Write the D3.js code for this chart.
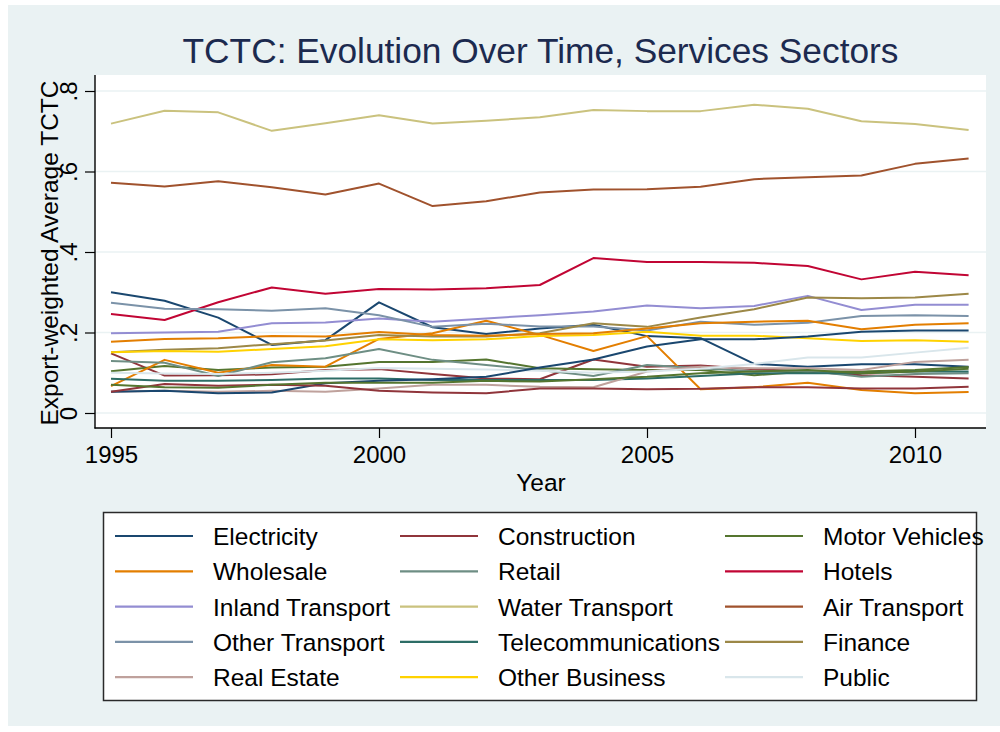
<!DOCTYPE html>
<html>
<head>
<meta charset="utf-8">
<script src="https://cdn.jsdelivr.net/npm/d3@7"></script>
<style>
  html, body { margin: 0; padding: 0; background: #ffffff; }
  svg { display: block; font-family: "Liberation Sans", Arial, Helvetica, sans-serif; }
</style>
</head>
<body>
<svg id="chart" width="1000" height="732"></svg>
<script>
// Years on the x axis
const years = [1995, 1996, 1997, 1998, 1999, 2000, 2001, 2002, 2003, 2004, 2005, 2006, 2007, 2008, 2009, 2010, 2011];

// Export-weighted average TCTC by sector, 1995-2011
const electricity       = [0.300, 0.279, 0.237, 0.169, 0.181, 0.275, 0.213, 0.196, 0.210, 0.219, 0.191, 0.186, 0.122, 0.115, 0.121, 0.121, 0.115];
const construction      = [0.148, 0.093, 0.094, 0.096, 0.107, 0.109, 0.097, 0.086, 0.084, 0.133, 0.115, 0.118, 0.109, 0.103, 0.094, 0.090, 0.086];
const motorVehicles     = [0.104, 0.117, 0.107, 0.113, 0.115, 0.127, 0.127, 0.133, 0.111, 0.109, 0.107, 0.107, 0.094, 0.103, 0.103, 0.107, 0.114];
const wholesale         = [0.067, 0.132, 0.100, 0.119, 0.115, 0.184, 0.198, 0.229, 0.194, 0.154, 0.191, 0.059, 0.064, 0.075, 0.057, 0.049, 0.052];
const retail            = [0.129, 0.125, 0.092, 0.126, 0.136, 0.159, 0.132, 0.119, 0.107, 0.092, 0.119, 0.111, 0.104, 0.105, 0.090, 0.097, 0.099];
const hotels            = [0.246, 0.231, 0.275, 0.312, 0.296, 0.308, 0.307, 0.310, 0.318, 0.385, 0.375, 0.375, 0.373, 0.365, 0.332, 0.351, 0.342];
const inlandTransport   = [0.198, 0.200, 0.202, 0.223, 0.225, 0.235, 0.227, 0.235, 0.243, 0.252, 0.267, 0.260, 0.266, 0.291, 0.256, 0.269, 0.269];
const waterTransport    = [0.719, 0.751, 0.747, 0.701, 0.720, 0.740, 0.719, 0.726, 0.735, 0.753, 0.750, 0.750, 0.766, 0.756, 0.725, 0.718, 0.703];
const airTransport      = [0.572, 0.563, 0.576, 0.561, 0.543, 0.570, 0.514, 0.526, 0.548, 0.555, 0.556, 0.562, 0.581, 0.586, 0.590, 0.619, 0.632];
const otherTransport    = [0.274, 0.259, 0.258, 0.254, 0.260, 0.243, 0.214, 0.222, 0.215, 0.215, 0.205, 0.227, 0.219, 0.224, 0.241, 0.243, 0.241];
const telecommunications= [0.085, 0.080, 0.080, 0.082, 0.086, 0.086, 0.082, 0.082, 0.082, 0.082, 0.086, 0.092, 0.099, 0.099, 0.099, 0.103, 0.103];
const finance           = [0.151, 0.157, 0.161, 0.171, 0.180, 0.194, 0.190, 0.190, 0.198, 0.223, 0.214, 0.237, 0.258, 0.287, 0.285, 0.287, 0.296];
const realEstate        = [0.053, 0.055, 0.053, 0.055, 0.053, 0.061, 0.070, 0.070, 0.065, 0.064, 0.103, 0.115, 0.111, 0.111, 0.107, 0.127, 0.132];
const otherBusiness     = [0.151, 0.154, 0.152, 0.159, 0.166, 0.183, 0.181, 0.183, 0.191, 0.194, 0.202, 0.192, 0.192, 0.186, 0.179, 0.181, 0.177];
const publicSector      = [0.100, 0.098, 0.097, 0.100, 0.105, 0.112, 0.110, 0.108, 0.105, 0.100, 0.103, 0.110, 0.122, 0.138, 0.138, 0.150, 0.162];
// Further plotted series without a legend key (plot styles wrap around to the first colours)
const series16          = [0.053, 0.055, 0.049, 0.051, 0.074, 0.080, 0.084, 0.090, 0.113, 0.133, 0.165, 0.183, 0.183, 0.190, 0.202, 0.205, 0.205];
const series17          = [0.053, 0.072, 0.068, 0.070, 0.068, 0.055, 0.051, 0.049, 0.061, 0.061, 0.059, 0.060, 0.064, 0.064, 0.061, 0.061, 0.065];
const series18          = [0.070, 0.064, 0.063, 0.070, 0.075, 0.075, 0.075, 0.080, 0.078, 0.084, 0.090, 0.099, 0.103, 0.107, 0.099, 0.103, 0.110];
const series19          = [0.177, 0.184, 0.186, 0.191, 0.190, 0.201, 0.194, 0.192, 0.196, 0.198, 0.210, 0.223, 0.227, 0.229, 0.208, 0.219, 0.223];

// Legend labels, in plotting order
const legendLabels = ["Electricity", "Construction", "Motor Vehicles", "Wholesale", "Retail", "Hotels",
  "Inland Transport", "Water Transport", "Air Transport", "Other Transport", "Telecommunications",
  "Finance", "Real Estate", "Other Business", "Public"];

// Axis ticks
const yTicks = [0, 0.2, 0.4, 0.6, 0.8];
const xTicks = [1995, 2000, 2005, 2010];

// Stata s2color palette (p1..p15)
const palette = ["#1a476f", "#90353b", "#55752f", "#e37e00", "#6e8e84", "#c10534", "#938dd2",
  "#cac27e", "#a0522d", "#7b92a8", "#2d6d66", "#9c8847", "#bfa19c", "#ffd200", "#d9e6eb"];

const allValues = [electricity, construction, motorVehicles, wholesale, retail, hotels, inlandTransport,
  waterTransport, airTransport, otherTransport, telecommunications, finance, realEstate, otherBusiness,
  publicSector, series16, series17, series18, series19];

const seriesList = allValues.map((vals, i) => ({
  label: i < legendLabels.length ? legendLabels[i] : null,
  color: palette[i % palette.length],
  values: vals
}));

const svg = d3.select("#chart");
const bgColor = "#eaf2f3";

// Graph region background
svg.append("rect").attr("x", 8).attr("y", 5).attr("width", 992).attr("height", 721).attr("fill", bgColor);

// Plot region
const plot = { left: 95, right: 986, top: 75, bottom: 428 };
svg.append("rect")
  .attr("x", plot.left).attr("y", plot.top)
  .attr("width", plot.right - plot.left).attr("height", plot.bottom - plot.top)
  .attr("fill", "#ffffff");

const x = d3.scaleLinear().domain([1995, 2010]).range([111, 915]);
const y = d3.scaleLinear().domain([0, 0.8]).range([413, 91]);

// Horizontal grid lines
svg.append("g").selectAll("line").data(yTicks).join("line")
  .attr("x1", plot.left).attr("x2", plot.right)
  .attr("y1", d => y(d)).attr("y2", d => y(d))
  .attr("stroke", bgColor).attr("stroke-width", 1.6);

// Series lines
const line = d3.line().x((d, i) => x(years[i])).y(d => y(d));
svg.append("g").selectAll("path").data(seriesList).join("path")
  .attr("d", s => line(s.values))
  .attr("fill", "none")
  .attr("stroke", s => s.color)
  .attr("stroke-width", 2)
  .attr("stroke-linejoin", "round");

// Y axis
const yFmt = d => d === 0 ? "0" : d3.format(".1f")(d).replace(/^0/, "");
const yAxis = svg.append("g").attr("transform", `translate(${plot.left},0)`)
  .call(d3.axisLeft(y).tickValues(yTicks).tickFormat(yFmt).tickSize(10).tickSizeOuter(0));
yAxis.select(".domain").remove();
yAxis.selectAll(".tick line").attr("stroke", "#000").attr("stroke-width", 1.2);
yAxis.selectAll(".tick text")
  .attr("transform", "rotate(-90)")
  .attr("x", 0).attr("y", -18).attr("dy", 0)
  .attr("text-anchor", "middle")
  .attr("font-size", 24).attr("fill", "#000")
  .attr("font-family", "'Liberation Sans', Arial, sans-serif");
svg.append("line").attr("x1", plot.left).attr("x2", plot.left)
  .attr("y1", plot.top).attr("y2", plot.bottom + 0.5)
  .attr("stroke", "#000").attr("stroke-width", 1.4);

// X axis
const xAxis = svg.append("g").attr("transform", `translate(0,${plot.bottom})`)
  .call(d3.axisBottom(x).tickValues(xTicks).tickFormat(d3.format("d")).tickSize(10).tickSizeOuter(0));
xAxis.select(".domain").remove();
xAxis.selectAll(".tick line").attr("stroke", "#000").attr("stroke-width", 1.2);
xAxis.selectAll(".tick text")
  .attr("y", 35).attr("dy", 0)
  .attr("font-size", 24).attr("fill", "#000")
  .attr("font-family", "'Liberation Sans', Arial, sans-serif");
svg.append("line").attr("x1", plot.left - 0.5).attr("x2", plot.right)
  .attr("y1", plot.bottom).attr("y2", plot.bottom)
  .attr("stroke", "#000").attr("stroke-width", 1.4);

// Axis titles
svg.append("text")
  .attr("transform", "translate(58,253) rotate(-90)")
  .attr("text-anchor", "middle")
  .attr("font-size", 24.5).attr("fill", "#000")
  .text("Export-weighted Average TCTC");
svg.append("text")
  .attr("x", 541).attr("y", 491)
  .attr("text-anchor", "middle")
  .attr("font-size", 24.5).attr("fill", "#000")
  .text("Year");

// Title
svg.append("text")
  .attr("x", 540.5).attr("y", 63)
  .attr("text-anchor", "middle")
  .attr("font-size", 35.3).attr("fill", "#1c2a4f")
  .text("TCTC: Evolution Over Time, Services Sectors");

// Legend
const legendItems = seriesList.filter(s => s.label);
const legend = svg.append("g");
legend.append("rect")
  .attr("x", 103.5).attr("y", 512.5).attr("width", 873).attr("height", 188)
  .attr("fill", "#ffffff").attr("stroke", "#2a2a2a").attr("stroke-width", 1.5);
const colLine = [115, 400, 725];
const colText = [213, 498, 823];
const rowY = r => 536 + r * 35.3;
const item = legend.selectAll("g.item").data(legendItems).join("g").attr("class", "item");
item.append("line")
  .attr("x1", (d, i) => colLine[i % 3]).attr("x2", (d, i) => colLine[i % 3] + 78)
  .attr("y1", (d, i) => rowY(Math.floor(i / 3))).attr("y2", (d, i) => rowY(Math.floor(i / 3)))
  .attr("stroke", d => d.color).attr("stroke-width", 2.2);
item.append("text")
  .attr("x", (d, i) => colText[i % 3])
  .attr("y", (d, i) => rowY(Math.floor(i / 3)) + 9)
  .attr("font-size", 24.5).attr("fill", "#000")
  .text(d => d.label);
</script>
</body>
</html>
